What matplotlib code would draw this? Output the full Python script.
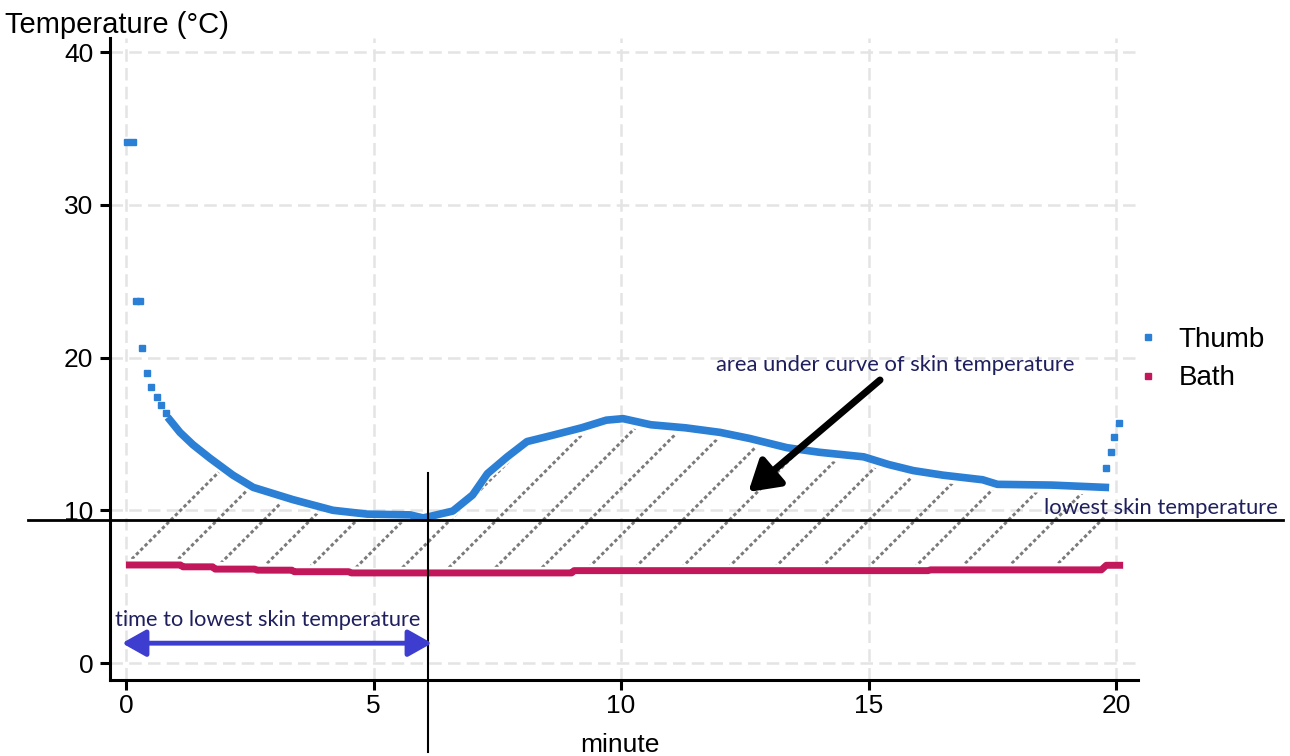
import numpy as np
import matplotlib.pyplot as plt
from matplotlib.lines import Line2D
from matplotlib.patches import Polygon

# thumb skin temperature (minutes, degC)
thumb_t = [0.02, 0.14, 0.2, 0.28, 0.33, 0.42, 0.51, 0.62, 0.7, 0.8,
           0.89, 1.09, 1.35, 1.7, 2.16, 2.57, 3.37, 4.18, 4.87, 5.74,
           6.0, 6.14, 6.6, 7.0, 7.3, 7.7, 8.1, 8.6, 9.2, 9.7,
           10.04, 10.6, 11.3, 12.0, 12.6, 13.35, 14.0, 14.9, 15.4, 15.9,
           16.5, 17.3, 17.6, 18.7, 19.78,
           19.8, 19.9, 19.96, 20.06]
thumb_c = [34.1, 34.1, 23.7, 23.7, 20.6, 19.0, 18.1, 17.4, 16.9, 16.4,
           15.9, 15.1, 14.3, 13.4, 12.3, 11.5, 10.7, 10.0, 9.75, 9.7,
           9.5, 9.6, 9.95, 11.0, 12.4, 13.5, 14.5, 14.9, 15.4, 15.9,
           16.0, 15.6, 15.4, 15.1, 14.7, 14.1, 13.8, 13.5, 13.0, 12.6,
           12.3, 12.0, 11.7, 11.65, 11.5,
           12.8, 13.8, 14.8, 15.7]

# bath temperature
bath_t = [0.0, 1.1, 1.15, 1.75, 1.8, 2.6, 2.65, 3.35, 3.4, 4.5, 4.55,
          9.0, 9.05, 16.2, 16.25, 19.7, 19.8, 20.14]
bath_c = [6.42, 6.42, 6.3, 6.3, 6.15, 6.15, 6.08, 6.08, 5.98, 5.98, 5.9,
          5.9, 6.05, 6.05, 6.1, 6.1, 6.4, 6.4]

x_ticks = [0, 5, 10, 15, 20]
y_ticks = [0, 10, 20, 30, 40]
lowest_temp = 9.36
time_lowest = 6.1

blue = '#2b80d6'
red = '#c2185b'
navy = '#1f1f5e'
note_font = ['Lato', 'DejaVu Sans']

plt.rcParams['font.family'] = ['Liberation Sans', 'DejaVu Sans']

W, H = 1290, 756
fig = plt.figure(figsize=(W / 100, H / 100), dpi=100)
ax = fig.add_axes([110 / W, 1 - 680 / H, 1028 / W, 642 / H])

xlim = (-0.323, 20.44)
ylim = (-1.11, 40.92)
ax.set_xlim(*xlim)
ax.set_ylim(*ylim)

ax.grid(True, color='#e4e4e4', lw=1.8, ls=(0, (5, 2.5)))
ax.set_axisbelow(True)
for s in ['top', 'right']:
    ax.spines[s].set_visible(False)
for s in ['left', 'bottom']:
    ax.spines[s].set_linewidth(2.2)
ax.set_xticks(x_ticks)
ax.set_yticks(y_ticks)
ax.tick_params(axis='both', length=7, width=2.2, labelsize=19, color='black')
ax.tick_params(axis='x', pad=3)
ax.tick_params(axis='y', pad=5)

t = np.array(thumb_t)
c = np.array(thumb_c)
bt = np.array(bath_t)
bc = np.array(bath_c)

# hatched area (between bath and thumb curve)
ht = t[:-4]
upper = np.minimum(c[:-4] - 0.5, 16.0)
lower = np.interp(ht, bt, bc) + 0.4
verts = np.column_stack([np.concatenate([ht, ht[::-1]]),
                         np.concatenate([upper, lower[::-1]])])
region = Polygon(verts, closed=True, facecolor='none', edgecolor='none')
ax.add_patch(region)
k = (1028 / (xlim[1] - xlim[0])) / (642 / (ylim[1] - ylim[0]))
for x0 in np.arange(-0.07, 21, 0.94):
    ln, = ax.plot([x0 - 2, x0 + 5], [6.2 - 2 * k, 6.2 + 5 * k],
                  color='#7a7a7a', lw=2.1, ls=(0, (1.2, 0.9)), zorder=2)
    ln.set_clip_path(region)

# bath and thumb
ax.plot(bt, bc, color=red, lw=5, solid_capstyle='butt', zorder=3)
ax.plot(t[10:-4], c[10:-4], color=blue, lw=5.5, zorder=3)
ax.plot(t[:10], c[:10], ls='none', marker='s', ms=4.8, color=blue, zorder=3)
ax.plot(t[-4:], c[-4:], ls='none', marker='s', ms=4.8, color=blue, zorder=3)

# reference lines
ax.plot([-1.98, 23.37], [lowest_temp, lowest_temp], color='black', lw=2,
        clip_on=False, zorder=4)
ax.plot([time_lowest, time_lowest], [12.44, -5.83], color='black', lw=1.5,
        clip_on=False, zorder=4)

# annotations
ax.text(15.54, 19.5, 'area under curve of skin temperature', color=navy,
        fontsize=15.8, family=note_font, ha='center', va='center')
ax.annotate('', xy=(12.57, 11.2), xytext=(15.23, 18.53),
            arrowprops=dict(arrowstyle='-|>,head_length=0.9,head_width=0.55',
                            lw=5, color='black', mutation_scale=20,
                            shrinkA=0, shrinkB=0), zorder=5)
ax.text(20.9, 10.15, 'lowest skin temperature', color=navy, fontsize=15.8,
        family=note_font, ha='center', va='center', clip_on=False)
ax.text(2.87, 2.8, 'time to lowest skin temperature', color=navy,
        fontsize=15.7, family=note_font, ha='center', va='center')
ax.annotate('', xy=(-0.08, 1.3), xytext=(time_lowest + 0.08, 1.3),
            arrowprops=dict(arrowstyle='<|-|>,head_length=0.8,head_width=0.45',
                            lw=3.5, color='#3d3dd0', mutation_scale=18,
                            shrinkA=0, shrinkB=0), zorder=5)

# labels
ax.set_ylabel('Temperature (°C)', fontsize=21, rotation=0, ha='left', va='center')
ax.yaxis.set_label_coords(-0.102, 1.02)
ax.set_xlabel('minute', fontsize=19, va='center')
ax.xaxis.set_label_coords(0.496, -0.101)

handles = [Line2D([], [], ls='none', marker='s', ms=4, color=blue),
           Line2D([], [], ls='none', marker='s', ms=4, color=red)]
ax.legend(handles, ['Thumb', 'Bath'], loc='center left',
          bbox_to_anchor=(1.0, 0.50), frameon=False, fontsize=20,
          handlelength=0.75, handletextpad=0.7, borderpad=0,
          borderaxespad=0, labelspacing=0.45)

fig.savefig('out.png', dpi=100)
